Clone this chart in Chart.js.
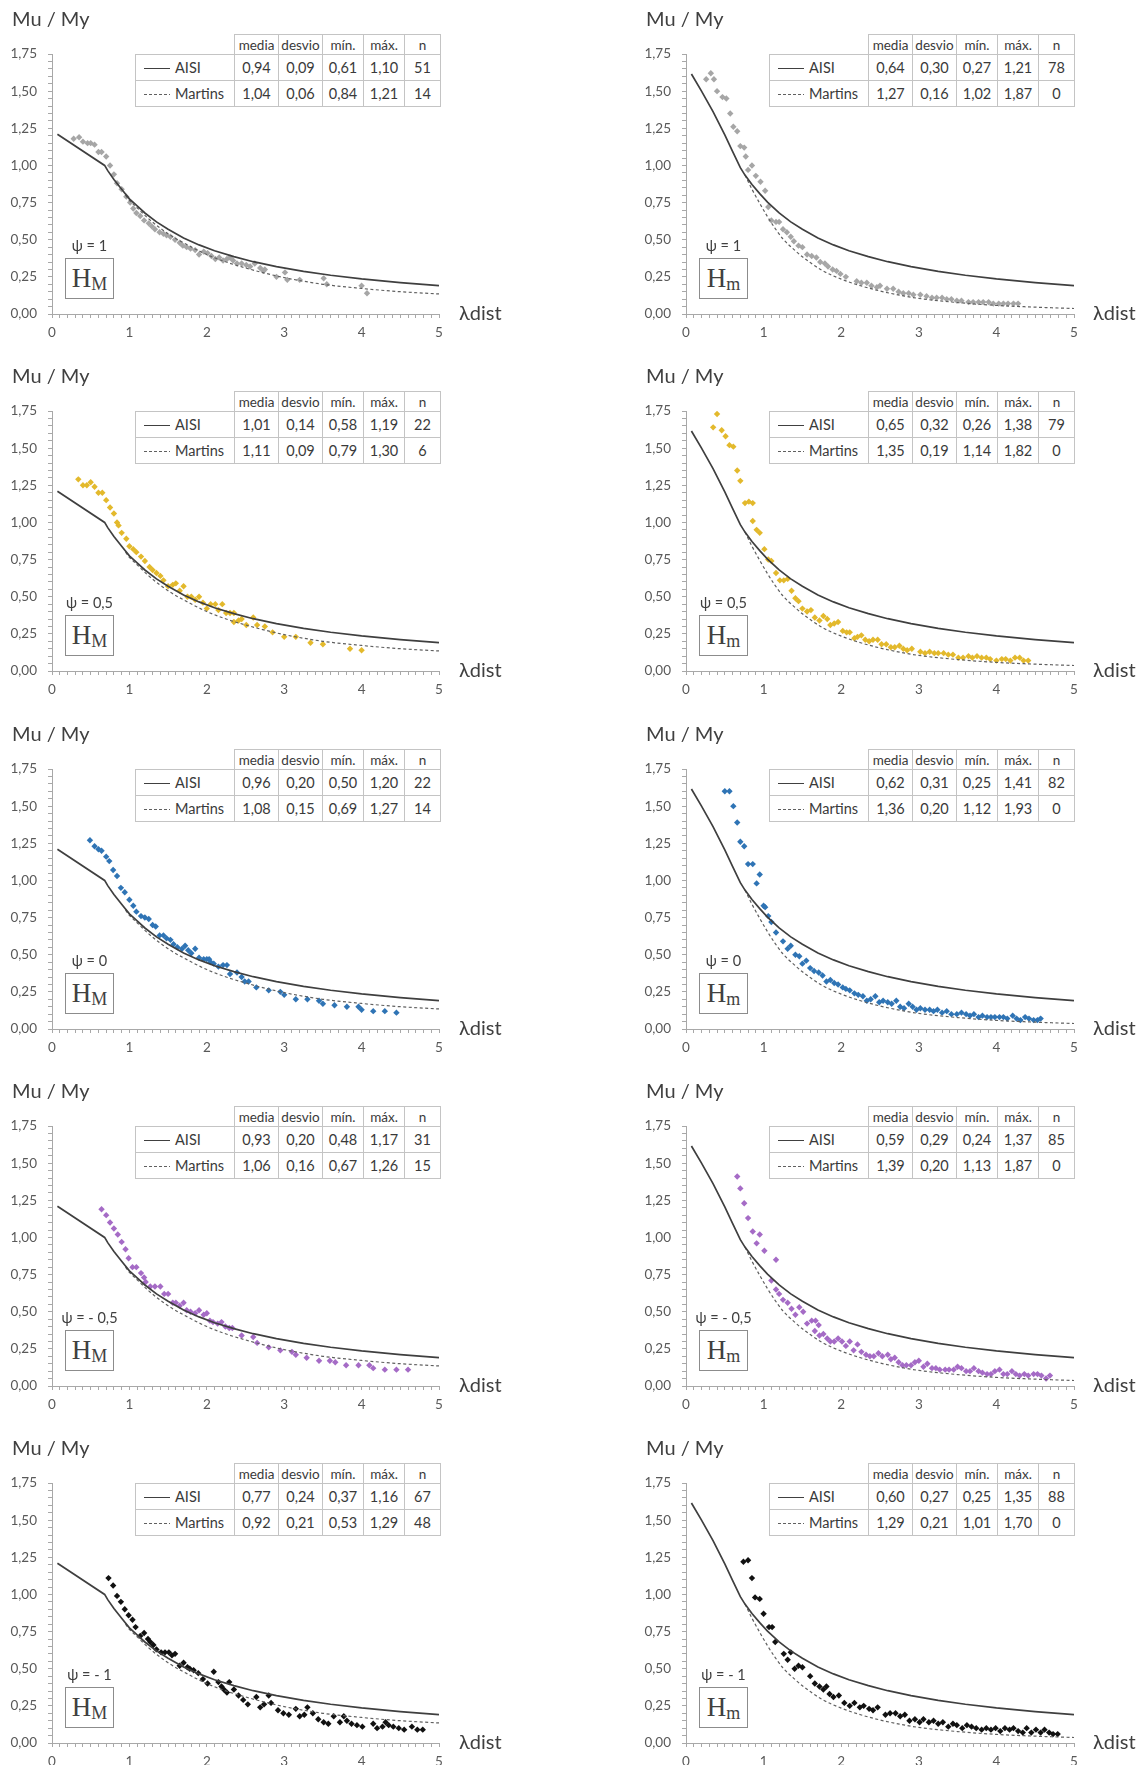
<!DOCTYPE html>
<html><head><meta charset="utf-8">
<script src="https://cdn.jsdelivr.net/npm/chart.js@4.4.1/dist/chart.umd.min.js"></script>
<style>
html,body{margin:0;padding:0;background:#fff;}
body{width:1148px;height:1765px;position:relative;overflow:hidden;font-family:Lato,"Open Sans",sans-serif;color:#404040;}
canvas{position:absolute;}
.ttl{position:absolute;font-size:20px;line-height:22px;white-space:nowrap;color:#404040;}
.psi{position:absolute;width:90px;text-align:center;font-size:14.5px;line-height:16px;white-space:nowrap;color:#404040;}
.hb{position:absolute;width:49px;height:41px;box-sizing:border-box;border:1px solid #8c8c8c;background:#fff;
  font-family:"Liberation Serif","DejaVu Serif",serif;color:#404040;display:flex;align-items:center;justify-content:center;}
.hb .H{font-size:27px;line-height:27px;}
.hb .s{font-size:18px;line-height:18px;position:relative;top:5px;}
table.st{position:absolute;border-collapse:collapse;table-layout:fixed;color:#3a3a3a;background:#fff;}
table.st td{border:1px solid #c4c4c4;padding:0;text-align:center;white-space:nowrap;overflow:hidden;font-size:14.5px;}
table.st tr.h td{height:19px;font-size:13.5px;}
table.st tr.b td{height:25px;}
table.st td.e{border:none;}
table.st td.lg{text-align:left;padding-left:8px;}
.sw{display:inline-block;width:26px;height:0;border-top:1.6px solid #404040;vertical-align:middle;margin-right:5px;position:relative;top:-1px;}
.sd{display:inline-block;width:26px;height:1.3px;vertical-align:middle;margin-right:5px;position:relative;top:-1px;
  background:repeating-linear-gradient(90deg,#606060 0 3px,transparent 3px 5px);}
</style>
</head><body>
<script>
// ---------- data ----------
const colHeads = ['media','desvio','mín.','máx.','n'];
const seriesNames = ['AISI','Martins'];
const psiLabels = ['ψ = 1','ψ = 0,5','ψ = 0','ψ = - 0,5','ψ = - 1'];
const xTickLabels = ['0','1','2','3','4','5'];
const yTickLabels = ['0,00','0,25','0,50','0,75','1,00','1,25','1,50','1,75'];

// design curves
const aisiHM = [[0.07,1.21],[0.68,1.00],[0.72,0.965],[0.80,0.905],[0.90,0.84],[1.00,0.775],[1.10,0.727],[1.20,0.68],[1.35,0.62],[1.50,0.57],[1.70,0.512],[1.90,0.465],[2.10,0.426],[2.35,0.386],[2.60,0.352],[2.90,0.319],[3.25,0.287],[3.60,0.261],[4.00,0.236],[4.50,0.211],[5.00,0.191]];
const martHM = [[0.95,0.80],[1.00,0.765],[1.10,0.715],[1.25,0.64],[1.50,0.54],[1.75,0.465],[2.00,0.40],[2.25,0.35],[2.50,0.31],[2.75,0.275],[3.00,0.245],[3.50,0.20],[4.00,0.172],[4.50,0.15],[5.00,0.135]];
const aisiHm = [[0.07,1.615],[0.20,1.50],[0.35,1.36],[0.50,1.205],[0.60,1.095],[0.70,0.985],[0.76,0.935],[0.85,0.872],[0.95,0.81],[1.05,0.753],[1.20,0.68],[1.35,0.62],[1.50,0.57],[1.70,0.512],[1.90,0.465],[2.10,0.426],[2.35,0.386],[2.60,0.352],[2.90,0.319],[3.25,0.287],[3.60,0.261],[4.00,0.236],[4.50,0.211],[5.00,0.191]];
const martHm = [[0.76,0.935],[0.85,0.84],[0.95,0.745],[1.05,0.655],[1.15,0.575],[1.25,0.505],[1.40,0.43],[1.50,0.385],[1.75,0.295],[2.00,0.235],[2.25,0.19],[2.50,0.155],[2.75,0.127],[3.00,0.105],[3.50,0.077],[4.00,0.058],[4.50,0.046],[5.00,0.037]];

// test points [λdist, Mu/My]
const psi1_HM = [[0.28,1.18],[0.35,1.19],[0.40,1.16],[0.46,1.15],[0.50,1.15],[0.55,1.14],[0.60,1.09],[0.64,1.09],[0.70,1.06],[0.75,1.00],[0.80,0.94],[0.84,0.88],[0.90,0.84],[0.96,0.79],[1.01,0.75],[1.05,0.71],[1.09,0.68],[1.14,0.66],[1.19,0.63],[1.25,0.61],[1.29,0.59],[1.33,0.57],[1.39,0.55],[1.44,0.54],[1.48,0.53],[1.53,0.52],[1.59,0.50],[1.65,0.48],[1.69,0.46],[1.74,0.45],[1.79,0.44],[1.85,0.43],[1.90,0.40],[1.96,0.42],[2.01,0.41],[2.06,0.39],[2.11,0.37],[2.16,0.38],[2.21,0.36],[2.26,0.37],[2.30,0.38],[2.34,0.36],[2.39,0.34],[2.45,0.34],[2.51,0.33],[2.56,0.32],[2.62,0.34],[2.69,0.31],[2.73,0.29],[2.75,0.30],[2.90,0.25],[3.01,0.28],[3.04,0.23],[3.20,0.23],[3.51,0.24],[3.55,0.20],[4.00,0.19],[4.07,0.14]];
const psi1_Hm = [[0.26,1.58],[0.32,1.62],[0.36,1.58],[0.40,1.50],[0.47,1.46],[0.52,1.45],[0.57,1.35],[0.61,1.26],[0.66,1.23],[0.70,1.13],[0.75,1.12],[0.77,1.06],[0.80,0.97],[0.85,1.00],[0.90,0.93],[0.96,0.89],[1.02,0.83],[1.06,0.72],[1.10,0.63],[1.16,0.62],[1.20,0.62],[1.25,0.57],[1.30,0.55],[1.35,0.52],[1.39,0.49],[1.45,0.46],[1.50,0.45],[1.56,0.40],[1.62,0.39],[1.68,0.38],[1.73,0.35],[1.79,0.34],[1.83,0.32],[1.89,0.30],[1.94,0.29],[1.99,0.27],[2.06,0.25],[2.20,0.22],[2.26,0.21],[2.33,0.21],[2.39,0.19],[2.46,0.18],[2.50,0.19],[2.59,0.17],[2.67,0.17],[2.74,0.15],[2.80,0.14],[2.87,0.14],[2.93,0.13],[3.02,0.13],[3.10,0.12],[3.17,0.11],[3.23,0.11],[3.30,0.11],[3.36,0.10],[3.42,0.10],[3.49,0.09],[3.55,0.09],[3.64,0.08],[3.70,0.08],[3.77,0.08],[3.83,0.08],[3.90,0.08],[3.96,0.07],[4.03,0.07],[4.09,0.07],[4.15,0.07],[4.22,0.07],[4.28,0.07]];
const psi05_HM = [[0.34,1.29],[0.40,1.25],[0.45,1.25],[0.50,1.27],[0.55,1.24],[0.60,1.20],[0.65,1.20],[0.70,1.15],[0.75,1.10],[0.80,1.06],[0.84,1.00],[0.86,0.98],[0.90,0.93],[0.96,0.89],[1.00,0.84],[1.05,0.82],[1.09,0.80],[1.15,0.77],[1.20,0.74],[1.26,0.70],[1.30,0.68],[1.35,0.66],[1.40,0.64],[1.44,0.61],[1.50,0.57],[1.56,0.58],[1.60,0.59],[1.65,0.54],[1.70,0.57],[1.75,0.50],[1.80,0.50],[1.85,0.48],[1.90,0.50],[1.95,0.46],[2.00,0.42],[2.05,0.45],[2.11,0.45],[2.15,0.41],[2.20,0.45],[2.25,0.39],[2.30,0.39],[2.35,0.39],[2.35,0.33],[2.41,0.34],[2.45,0.35],[2.51,0.31],[2.60,0.36],[2.65,0.31],[2.75,0.30],[2.85,0.26],[3.00,0.23],[3.15,0.23],[3.34,0.19],[3.50,0.18],[3.85,0.15],[4.00,0.14]];
const psi05_Hm = [[0.35,1.64],[0.40,1.73],[0.46,1.62],[0.51,1.58],[0.56,1.52],[0.61,1.51],[0.66,1.35],[0.70,1.28],[0.76,1.13],[0.81,1.14],[0.86,1.13],[0.86,1.01],[0.91,0.95],[0.95,0.93],[1.01,0.82],[1.06,0.75],[1.10,0.74],[1.16,0.66],[1.21,0.61],[1.26,0.61],[1.31,0.62],[1.36,0.54],[1.41,0.49],[1.45,0.47],[1.50,0.42],[1.56,0.40],[1.61,0.41],[1.66,0.36],[1.72,0.34],[1.77,0.37],[1.82,0.35],[1.86,0.31],[1.91,0.32],[1.96,0.33],[2.02,0.27],[2.07,0.26],[2.11,0.26],[2.17,0.22],[2.21,0.23],[2.26,0.24],[2.31,0.21],[2.36,0.20],[2.41,0.21],[2.47,0.21],[2.52,0.18],[2.58,0.18],[2.64,0.16],[2.69,0.16],[2.75,0.17],[2.80,0.15],[2.85,0.14],[2.91,0.15],[3.02,0.13],[3.08,0.12],[3.14,0.13],[3.20,0.12],[3.25,0.12],[3.32,0.12],[3.38,0.11],[3.44,0.11],[3.51,0.09],[3.57,0.09],[3.64,0.10],[3.69,0.09],[3.75,0.10],[3.81,0.09],[3.87,0.09],[3.92,0.08],[4.00,0.07],[4.07,0.08],[4.12,0.08],[4.18,0.07],[4.24,0.09],[4.30,0.09],[4.35,0.07],[4.41,0.07]];
const psi0_HM = [[0.49,1.27],[0.55,1.23],[0.60,1.21],[0.64,1.20],[0.70,1.16],[0.74,1.13],[0.79,1.07],[0.84,1.03],[0.89,0.95],[0.94,0.92],[1.00,0.87],[1.05,0.83],[1.09,0.79],[1.15,0.76],[1.20,0.75],[1.25,0.74],[1.30,0.70],[1.34,0.69],[1.39,0.63],[1.44,0.63],[1.48,0.61],[1.53,0.60],[1.57,0.57],[1.62,0.55],[1.68,0.54],[1.72,0.56],[1.76,0.53],[1.80,0.51],[1.85,0.54],[1.90,0.48],[1.96,0.47],[2.00,0.47],[2.03,0.47],[2.05,0.45],[2.09,0.44],[2.15,0.42],[2.21,0.43],[2.26,0.43],[2.30,0.37],[2.39,0.38],[2.45,0.35],[2.49,0.32],[2.54,0.32],[2.64,0.28],[2.80,0.26],[2.95,0.25],[3.00,0.23],[3.15,0.20],[3.30,0.20],[3.45,0.19],[3.50,0.17],[3.65,0.16],[3.81,0.15],[3.96,0.15],[4.00,0.13],[4.15,0.12],[4.30,0.12],[4.45,0.11]];
const psi0_Hm = [[0.50,1.60],[0.56,1.60],[0.61,1.50],[0.66,1.39],[0.70,1.26],[0.75,1.23],[0.80,1.11],[0.86,1.11],[0.91,0.98],[0.95,1.04],[1.00,0.83],[1.02,0.82],[1.06,0.76],[1.10,0.72],[1.16,0.65],[1.25,0.59],[1.31,0.54],[1.35,0.56],[1.41,0.50],[1.46,0.49],[1.50,0.44],[1.55,0.46],[1.60,0.41],[1.65,0.39],[1.71,0.38],[1.76,0.36],[1.81,0.32],[1.86,0.33],[1.91,0.31],[1.96,0.30],[2.02,0.28],[2.06,0.27],[2.11,0.26],[2.17,0.24],[2.22,0.23],[2.28,0.22],[2.33,0.19],[2.38,0.20],[2.44,0.22],[2.49,0.18],[2.54,0.19],[2.60,0.18],[2.65,0.17],[2.71,0.19],[2.76,0.15],[2.81,0.14],[2.87,0.17],[2.92,0.15],[2.97,0.13],[3.02,0.14],[3.08,0.13],[3.14,0.13],[3.19,0.12],[3.24,0.13],[3.30,0.11],[3.36,0.12],[3.42,0.10],[3.49,0.10],[3.55,0.11],[3.61,0.10],[3.66,0.09],[3.71,0.10],[3.77,0.08],[3.82,0.09],[3.88,0.08],[3.93,0.08],[3.98,0.08],[4.04,0.08],[4.09,0.08],[4.14,0.07],[4.21,0.09],[4.26,0.07],[4.31,0.06],[4.37,0.08],[4.42,0.07],[4.48,0.06],[4.53,0.06],[4.57,0.07]];
const psim05_HM = [[0.64,1.19],[0.70,1.15],[0.75,1.10],[0.80,1.06],[0.85,1.02],[0.90,0.97],[0.95,0.92],[0.99,0.86],[1.04,0.80],[1.09,0.80],[1.15,0.76],[1.19,0.73],[1.21,0.70],[1.27,0.67],[1.33,0.67],[1.40,0.67],[1.45,0.62],[1.50,0.62],[1.56,0.56],[1.60,0.56],[1.65,0.54],[1.70,0.56],[1.74,0.51],[1.79,0.50],[1.85,0.49],[1.90,0.51],[1.96,0.48],[2.00,0.49],[2.04,0.44],[2.08,0.43],[2.14,0.42],[2.19,0.43],[2.24,0.40],[2.29,0.39],[2.33,0.39],[2.45,0.34],[2.60,0.33],[2.65,0.29],[2.80,0.26],[2.95,0.24],[3.10,0.23],[3.15,0.21],[3.29,0.19],[3.45,0.17],[3.59,0.17],[3.66,0.16],[3.80,0.14],[3.96,0.14],[4.10,0.14],[4.15,0.12],[4.30,0.11],[4.45,0.11],[4.60,0.11]];
const psim05_Hm = [[0.66,1.41],[0.70,1.33],[0.75,1.23],[0.80,1.13],[0.86,1.04],[0.91,0.96],[0.95,1.02],[1.01,0.91],[1.16,0.85],[1.10,0.71],[1.16,0.65],[1.20,0.62],[1.25,0.58],[1.31,0.56],[1.36,0.52],[1.41,0.48],[1.46,0.53],[1.51,0.50],[1.56,0.42],[1.62,0.44],[1.67,0.44],[1.71,0.41],[1.66,0.37],[1.72,0.34],[1.77,0.35],[1.82,0.32],[1.86,0.30],[1.91,0.30],[1.96,0.32],[2.01,0.30],[2.06,0.27],[2.11,0.30],[2.16,0.24],[2.21,0.28],[2.26,0.23],[2.32,0.21],[2.37,0.20],[2.42,0.20],[2.48,0.22],[2.53,0.20],[2.60,0.21],[2.64,0.18],[2.69,0.19],[2.74,0.16],[2.79,0.14],[2.84,0.14],[2.90,0.14],[2.95,0.16],[3.00,0.17],[3.06,0.13],[3.11,0.15],[3.17,0.12],[3.22,0.12],[3.27,0.11],[3.34,0.11],[3.39,0.11],[3.45,0.11],[3.50,0.13],[3.55,0.12],[3.61,0.10],[3.66,0.10],[3.71,0.12],[3.77,0.10],[3.82,0.09],[3.88,0.08],[3.93,0.08],[3.98,0.10],[4.04,0.11],[4.09,0.08],[4.14,0.08],[4.20,0.10],[4.25,0.08],[4.30,0.07],[4.36,0.08],[4.41,0.07],[4.48,0.08],[4.53,0.08],[4.58,0.07],[4.64,0.05],[4.69,0.07]];
const psim1_HM = [[0.73,1.11],[0.79,1.06],[0.84,0.99],[0.89,0.95],[0.94,0.90],[0.99,0.86],[1.04,0.83],[1.08,0.78],[1.14,0.72],[1.19,0.74],[1.24,0.70],[1.27,0.68],[1.31,0.66],[1.35,0.63],[1.41,0.61],[1.46,0.61],[1.51,0.61],[1.55,0.59],[1.59,0.60],[1.65,0.52],[1.70,0.54],[1.75,0.51],[1.78,0.50],[1.83,0.49],[1.89,0.47],[1.95,0.43],[2.01,0.40],[2.09,0.48],[2.15,0.41],[2.19,0.38],[2.22,0.36],[2.26,0.34],[2.29,0.41],[2.35,0.36],[2.41,0.32],[2.47,0.29],[2.53,0.26],[2.64,0.31],[2.69,0.24],[2.74,0.26],[2.80,0.32],[2.83,0.27],[2.92,0.22],[2.99,0.20],[3.06,0.19],[3.15,0.23],[3.20,0.18],[3.26,0.19],[3.30,0.24],[3.37,0.20],[3.44,0.16],[3.51,0.14],[3.57,0.13],[3.64,0.18],[3.72,0.14],[3.77,0.18],[3.81,0.15],[3.87,0.13],[3.94,0.12],[4.01,0.11],[4.15,0.13],[4.20,0.10],[4.27,0.11],[4.31,0.14],[4.35,0.12],[4.41,0.11],[4.48,0.10],[4.55,0.09],[4.65,0.11],[4.72,0.09],[4.79,0.09]];
const psim1_Hm = [[0.74,1.22],[0.80,1.23],[0.85,1.11],[0.89,0.98],[0.95,0.97],[1.00,0.87],[1.07,0.78],[1.11,0.78],[1.15,0.68],[1.26,0.60],[1.31,0.56],[1.35,0.61],[1.40,0.50],[1.45,0.52],[1.50,0.51],[1.60,0.45],[1.66,0.40],[1.72,0.38],[1.77,0.36],[1.81,0.38],[1.85,0.33],[1.90,0.31],[1.97,0.32],[2.04,0.27],[2.11,0.25],[2.17,0.27],[2.24,0.24],[2.29,0.25],[2.36,0.23],[2.41,0.22],[2.47,0.24],[2.57,0.19],[2.63,0.20],[2.70,0.20],[2.76,0.18],[2.82,0.19],[2.88,0.15],[2.95,0.16],[3.01,0.14],[3.06,0.16],[3.13,0.14],[3.19,0.15],[3.25,0.13],[3.31,0.14],[3.38,0.11],[3.44,0.13],[3.49,0.12],[3.56,0.10],[3.62,0.12],[3.68,0.11],[3.74,0.10],[3.81,0.09],[3.87,0.10],[3.93,0.09],[3.99,0.10],[4.05,0.08],[4.11,0.10],[4.17,0.09],[4.22,0.10],[4.28,0.08],[4.34,0.07],[4.39,0.10],[4.45,0.07],[4.51,0.09],[4.57,0.07],[4.62,0.09],[4.68,0.07],[4.73,0.06],[4.79,0.06]];

// statistics tables: [media, desvio, mín., máx., n]
const st1_HM = [['0,94','0,09','0,61','1,10','51'],['1,04','0,06','0,84','1,21','14']];
const st1_Hm = [['0,64','0,30','0,27','1,21','78'],['1,27','0,16','1,02','1,87','0']];
const st05_HM = [['1,01','0,14','0,58','1,19','22'],['1,11','0,09','0,79','1,30','6']];
const st05_Hm = [['0,65','0,32','0,26','1,38','79'],['1,35','0,19','1,14','1,82','0']];
const st0_HM = [['0,96','0,20','0,50','1,20','22'],['1,08','0,15','0,69','1,27','14']];
const st0_Hm = [['0,62','0,31','0,25','1,41','82'],['1,36','0,20','1,12','1,93','0']];
const stm05_HM = [['0,93','0,20','0,48','1,17','31'],['1,06','0,16','0,67','1,26','15']];
const stm05_Hm = [['0,59','0,29','0,24','1,37','85'],['1,39','0,20','1,13','1,87','0']];
const stm1_HM = [['0,77','0,24','0,37','1,16','67'],['0,92','0,21','0,53','1,29','48']];
const stm1_Hm = [['0,60','0,27','0,25','1,35','88'],['1,29','0,21','1,01','1,70','0']];

const rowColors = ['#a6a6a6','#e3b92c','#2f74b5','#a56bc6','#111111'];

const panels = [
  {row:0,col:0,pts:psi1_HM,st:st1_HM},{row:0,col:1,pts:psi1_Hm,st:st1_Hm},
  {row:1,col:0,pts:psi05_HM,st:st05_HM},{row:1,col:1,pts:psi05_Hm,st:st05_Hm},
  {row:2,col:0,pts:psi0_HM,st:st0_HM},{row:2,col:1,pts:psi0_Hm,st:st0_Hm},
  {row:3,col:0,pts:psim05_HM,st:stm05_HM},{row:3,col:1,pts:psim05_Hm,st:stm05_Hm},
  {row:4,col:0,pts:psim1_HM,st:stm1_HM},{row:4,col:1,pts:psim1_Hm,st:stm1_Hm}
];

// ---------- layout ----------
Chart.defaults.font.family = "Lato, 'Open Sans', sans-serif";
Chart.defaults.color = '#595959';
const ROW_H = 357.25;
const xTickVals = []; for (let i = 0; i <= 50; i++) xTickVals.push(i / 10);
const yTickVals = []; for (let i = 0; i <= 35; i++) yTickVals.push(i / 20);
const toXY = arr => arr.map(p => ({x: p[0], y: p[1]}));

function addDiv(cls, html, left, top) {
  const d = document.createElement('div');
  d.className = cls; d.innerHTML = html;
  d.style.left = left + 'px'; d.style.top = top + 'px';
  document.body.appendChild(d);
  return d;
}

panels.forEach(p => {
  const top = Math.round(p.row * ROW_H);
  const cx = p.col === 0 ? 0 : 634;      // canvas left
  const W = p.col === 0 ? 574 : 514;
  const H = 357;
  const axisX = cx + 52;                  // y-axis position on page
  const plotR = p.col === 0 ? 439 : 440;  // chart right inside canvas
  const isM = p.col === 0;

  const cv = document.createElement('canvas');
  cv.width = W; cv.height = H;
  cv.style.left = cx + 'px'; cv.style.top = top + 'px';
  document.body.appendChild(cv);

  new Chart(cv, {
    type: 'scatter',
    data: { datasets: [
      { label: seriesNames[0], data: toXY(isM ? aisiHM : aisiHm), showLine: true, borderColor: '#3f3f3f', borderWidth: 1.7, pointRadius: 0, tension: 0, order: 0 },
      { label: seriesNames[1], data: toXY(isM ? martHM : martHm), showLine: true, borderColor: '#606060', borderWidth: 1.2, borderDash: [3, 2.5], pointRadius: 0, cubicInterpolationMode: 'monotone', order: 0 },
      { label: 'ensayos', data: toXY(p.pts), showLine: false, pointStyle: 'rectRot', pointRadius: 3.2, backgroundColor: rowColors[p.row], borderWidth: 0, order: 1 }
    ]},
    options: {
      responsive: false, animation: false, events: [],
      layout: { padding: { left: 0, top: 54, right: W - plotR, bottom: 0 } },
      plugins: { legend: { display: false }, tooltip: { enabled: false } },
      scales: {
        x: {
          type: 'linear', min: 0, max: 5,
          afterFit: s => { s.height = 43; },
          afterBuildTicks: s => { s.ticks = xTickVals.map(v => ({value: v})); },
          grid: { drawOnChartArea: false, drawTicks: true, tickLength: 4, color: '#a8a8a8' },
          border: { display: true, color: '#a8a8a8', width: 1 },
          ticks: { autoSkip: false, maxRotation: 0, minRotation: 0, padding: 7, color: '#595959', font: { size: 13.5 },
            callback: v => { const r = Math.round(v); return Math.abs(v - r) < 1e-6 ? xTickLabels[r] : ''; } }
        },
        y: {
          type: 'linear', min: 0, max: 1.75,
          afterFit: s => { s.width = 52; },
          afterBuildTicks: s => { s.ticks = yTickVals.map(v => ({value: v})); },
          grid: { drawOnChartArea: false, drawTicks: true, tickLength: 4, color: '#a8a8a8' },
          border: { display: true, color: '#a8a8a8', width: 1 },
          ticks: { autoSkip: false, padding: 11, color: '#595959', font: { size: 13.5 },
            callback: v => { const q = Math.round(v * 4); return Math.abs(v * 4 - q) < 1e-6 ? yTickLabels[q] : ''; } }
        }
      }
    }
  });

  // axis titles
  addDiv('ttl', 'Mu / My', p.col === 0 ? 12 : 646, top + 7);
  addDiv('ttl', 'λdist', axisX + 387 + 20, top + 301);

  // psi label + section box
  const boxL = axisX + 13;
  addDiv('psi', psiLabels[p.row], boxL + 24.5 - 45, top + 238);
  addDiv('hb', '<span class="H">H</span><span class="s">' + (isM ? 'M' : 'm') + '</span>', boxL, top + 258);

  // statistics table
  const t = document.createElement('table');
  t.className = 'st';
  t.style.left = (axisX + 83) + 'px';
  t.style.top = (top + 34) + 'px';
  const widths = [99, 44, 44, 41, 41, 36];
  let html = '<colgroup>' + widths.map(w => '<col style="width:' + w + 'px">').join('') + '</colgroup>';
  html += '<tr class="h"><td class="e"></td>' + colHeads.map(h => '<td>' + h + '</td>').join('') + '</tr>';
  p.st.forEach((r, i) => {
    html += '<tr class="b"><td class="lg"><span class="' + (i === 0 ? 'sw' : 'sd') + '"></span>' + seriesNames[i] + '</td>' +
      r.map(v => '<td>' + v + '</td>').join('') + '</tr>';
  });
  t.innerHTML = html;
  document.body.appendChild(t);
});
</script>
</body></html>
